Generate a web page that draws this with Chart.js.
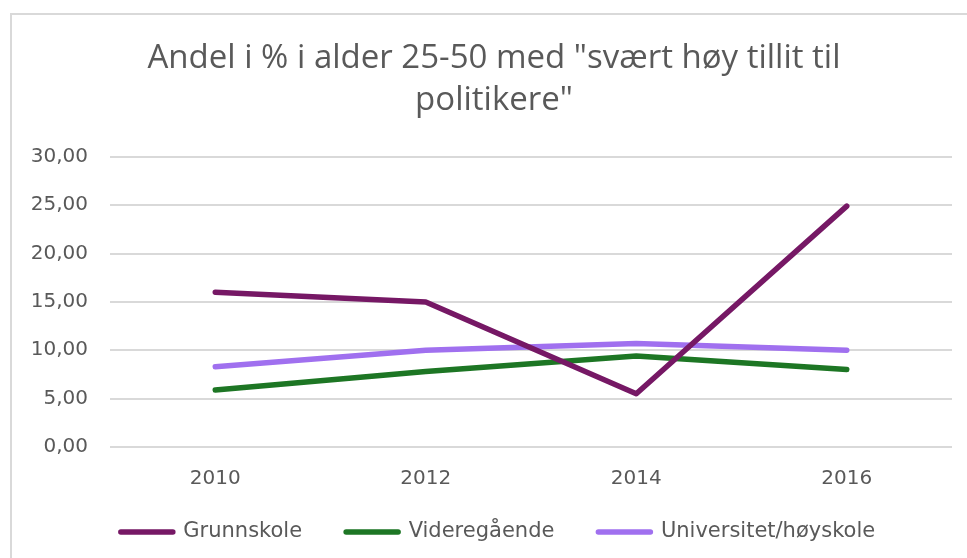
<!DOCTYPE html>
<html>
<head>
<meta charset="utf-8">
<script src="https://cdn.jsdelivr.net/npm/chart.js@4/dist/chart.umd.min.js"></script>
<style>
  html, body { margin: 0; padding: 0; background: #fff; }
  #frame { position: absolute; left: 10px; top: 13px; width: 970px; height: 560px;
           border-left: 2px solid #d9d9d9; border-top: 2px solid #d9d9d9; }
  #wrap { position: absolute; left: 0; top: 0; width: 967px; height: 558px; }
</style>
</head>
<body>
<div id="frame"></div>
<div id="wrap"><canvas id="lineChart"></canvas></div>
<script>
var years = ["2010", "2012", "2014", "2016"];
var grunnskole = [16.0, 15.0, 5.5, 24.9];
var videregaende = [5.9, 7.8, 9.4, 8.0];
var universitet = [8.3, 10.0, 10.7, 10.0];

var tickFont = { family: "DejaVu Sans", size: 20 };

function makeSet(label, values, colour) {
    return {
        "label": label,
        "data": values,
        "fill": false,
        "borderColor": colour,
        "backgroundColor": colour,
        "borderWidth": 5.5,
        "borderCapStyle": "round",
        "borderJoinStyle": "round",
        "pointRadius": 0,
        "lineTension": 0
    };
}

// title and legend sit a little right of centre, legend closer to the axis labels
var boxNudge = {
    id: "boxNudge",
    afterLayout: function(chart) {
        var t = chart.titleBlock;
        t.left += 13; t.right += 13;
        var l = chart.legend;
        l.left += 17; l.right += 17;
        l.top -= 25.5; l.bottom -= 25.5;
    }
};

new Chart(document.getElementById("lineChart"), {
    "type": "line",
    "data": {
        "labels": years,
        "datasets": [
            makeSet("Grunnskole", grunnskole, "#761865"),
            makeSet("Videregående", videregaende, "#1d7624"),
            makeSet("Universitet/høyskole", universitet, "#a070ef")
        ]
    },
    "plugins": [boxNudge],
    "options": {
        responsive: true,
        maintainAspectRatio: false,
        animation: false,
        layout: { padding: { left: 10, right: 15, top: 0, bottom: -20 } },
        plugins: {
            title: {
                display: true,
                text: ['Andel i % i alder 25-50 med "svært høy tillit til', 'politikere"'],
                color: "#595959",
                font: { family: "Open Sans", size: 33, weight: "normal", lineHeight: 1.27 },
                padding: { top: 38, bottom: 35 }
            },
            legend: {
                position: "bottom",
                labels: {
                    color: "#595959",
                    font: { family: "DejaVu Sans", size: 21, lineHeight: 1.0 },
                    usePointStyle: true,
                    pointStyle: "line",
                    boxWidth: 52,
                    pointStyleWidth: 52,
                    padding: 44,
                    generateLabels: function(chart) {
                        var items = Chart.defaults.plugins.legend.labels.generateLabels(chart);
                        items.forEach(function(it) { it.lineWidth = 5.5; it.lineCap = "round"; });
                        return items;
                    }
                }
            },
            tooltip: { enabled: false }
        },
        scales: {
            x: {
                offset: true,
                grid: { display: false },
                border: { display: false },
                ticks: { color: "#595959", font: tickFont, padding: 12 }
            },
            y: {
                min: 0,
                max: 30,
                afterFit: function(scale) { scale.width = 100; },
                grid: { color: "#d9d9d9", lineWidth: 2, drawTicks: false },
                border: { display: false },
                ticks: {
                    stepSize: 5,
                    color: "#595959",
                    font: tickFont,
                    padding: 22,
                    callback: function(v) { return v.toFixed(2).replace(".", ","); }
                }
            }
        }
    }
});
</script>
</body>
</html>
